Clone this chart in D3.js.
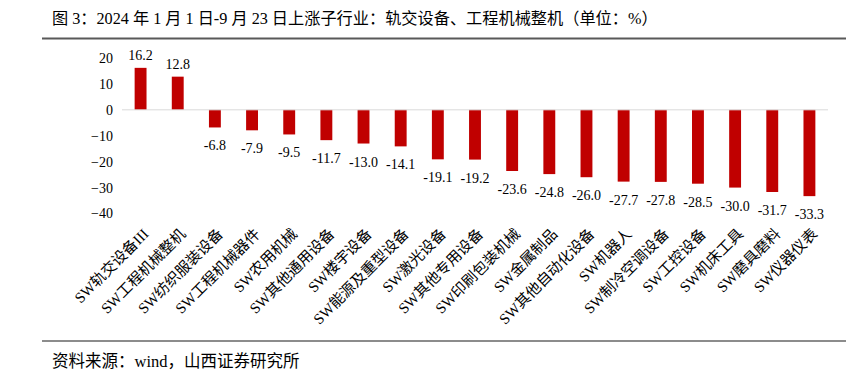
<meta charset="utf-8">
<style>
  body { margin: 0; background: #fff; }
  text { fill: #000; }
</style>
<svg width="848" height="381" id="chart"></svg>
<script src="https://cdn.jsdelivr.net/npm/d3@7"></script>
<script>
var categories = ["SW轨交设备III", "SW工程机械整机", "SW纺织服装设备", "SW工程机械器件", "SW农用机械",
  "SW其他通用设备", "SW楼宇设备", "SW能源及重型设备", "SW激光设备", "SW其他专用设备",
  "SW印刷包装机械", "SW金属制品", "SW其他自动化设备", "SW机器人", "SW制冷空调设备",
  "SW工控设备", "SW机床工具", "SW磨具磨料", "SW仪器仪表"];
var values = [16.2, 12.8, -6.8, -7.9, -9.5, -11.7, -13.0, -14.1, -19.1, -19.2,
  -23.6, -24.8, -26.0, -27.7, -27.8, -28.5, -30.0, -31.7, -33.3];
var yTicks = [20, 10, 0, -10, -20, -30, -40];
var title = "图 3：2024 年 1 月 1 日-9 月 23 日上涨子行业：轨交设备、工程机械整机（单位：%）";
var source = "资料来源：wind，山西证券研究所";

var font = "'Liberation Serif', 'Noto Sans CJK SC', serif";
var svg = d3.select("#chart");

// title + rules
svg.append("text").attr("x", 52).attr("y", 24)
  .style("font-family", font).style("font-size", "16.2px").text(title);
svg.append("line").attr("x1", 42).attr("x2", 846).attr("y1", 38.5).attr("y2", 38.5)
  .attr("stroke", "#595959").attr("stroke-width", 2);
svg.append("line").attr("x1", 42).attr("x2", 846).attr("y1", 341).attr("y2", 341)
  .attr("stroke", "#8c8c8c").attr("stroke-width", 2);
svg.append("text").attr("x", 52).attr("y", 367)
  .style("font-family", font).style("font-size", "16.5px").text(source);

var x = d3.scaleBand().domain(categories).range([122, 828]).paddingInner(0.68).paddingOuter(0.34);
var y = d3.scaleLinear().domain([-40, 20]).range([213.5, 58]);

// y axis labels (no line)
var yAxis = d3.axisLeft(y).tickValues(yTicks).tickSize(0).tickPadding(8).tickFormat(d3.format("d"));
var ga = svg.append("g").attr("transform", "translate(121,0)").call(yAxis);
ga.select(".domain").remove();
ga.selectAll("text").style("font-family", font).style("font-size", "14px").attr("fill", "#000");

// bars
svg.selectAll("rect.bar").data(values).enter().append("rect")
  .attr("class", "bar")
  .attr("x", function(d, i) { return x(categories[i]); })
  .attr("width", x.bandwidth())
  .attr("y", function(d) { return d >= 0 ? y(d) : y(0); })
  .attr("height", function(d) { return Math.abs(y(d) - y(0)); })
  .attr("fill", "#C00000");

// zero line
svg.append("line").attr("x1", 122).attr("x2", 828).attr("y1", y(0)).attr("y2", y(0))
  .attr("stroke", "#d9d9d9").attr("stroke-width", 1);

// value labels
svg.selectAll("text.val").data(values).enter().append("text")
  .attr("class", "val")
  .attr("x", function(d, i) { return x(categories[i]) + x.bandwidth() / 2; })
  .attr("y", function(d) { return d >= 0 ? y(d) - 8 : y(d) + 23; })
  .attr("text-anchor", "middle")
  .style("font-family", font).style("font-size", "14px")
  .text(function(d) { return d.toFixed(1); });

// category labels
svg.selectAll("text.cat").data(categories).enter().append("text")
  .attr("class", "cat")
  .attr("transform", function(d) {
    var cx = x(d) + x.bandwidth() / 2 + 9;
    return "translate(" + cx + ",235) rotate(-45)";
  })
  .attr("text-anchor", "end")
  .style("font-family", font).style("font-size", "15px")
  .text(function(d) { return d; });
</script>
